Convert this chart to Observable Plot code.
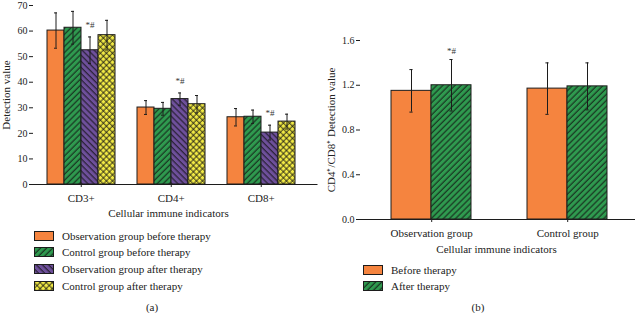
<!DOCTYPE html>
<html><head><meta charset="utf-8">
<script src="https://cdn.jsdelivr.net/npm/d3@7"></script>
<script src="https://cdn.jsdelivr.net/npm/@observablehq/plot@0.6"></script>
<style>
body{margin:0;background:#fff}
#root{position:relative;width:637px;height:313px;overflow:hidden;background:#fff;font-family:"Liberation Serif","Times New Roman",serif;color:#222}
.leg{position:absolute;display:flex;align-items:center;font-size:11px;height:16px;line-height:16px;white-space:nowrap}
.leg svg{margin-right:8px;display:block}
.cap{position:absolute;font-size:11px;transform:translate(-50%,-50%);white-space:nowrap}
</style></head>
<body>
<div id="root">
<svg width="0" height="0" style="position:absolute;left:0;top:0">
<defs>
<pattern id="pGreen" width="4.3" height="4.3" patternUnits="userSpaceOnUse" patternTransform="rotate(45)"><rect width="4.3" height="4.3" fill="#2F9A4F"/><line x1="1" y1="0" x2="1" y2="4.3" stroke="#111" stroke-width="0.9"/></pattern>
<pattern id="pPurple" width="4.3" height="4.3" patternUnits="userSpaceOnUse" patternTransform="rotate(-45)"><rect width="4.3" height="4.3" fill="#6E509B"/><line x1="1" y1="0" x2="1" y2="4.3" stroke="#111" stroke-width="0.9"/></pattern>
<pattern id="pYellow" width="4.3" height="4.3" patternUnits="userSpaceOnUse" patternTransform="rotate(45)"><rect width="4.3" height="4.3" fill="#F2EA45"/><line x1="1" y1="0" x2="1" y2="4.3" stroke="#111" stroke-width="0.8"/><line x1="0" y1="1" x2="4.3" y2="1" stroke="#111" stroke-width="0.8"/></pattern>
</defs></svg>
<div id="chartA" style="position:absolute;left:0;top:0"></div>
<div id="chartB" style="position:absolute;left:320px;top:0"></div>
</div>
<script>
// ---- Panel (a) data ----
const indicators = ["CD3+", "CD4+", "CD8+"];
const seriesA = ["Observation group before therapy", "Control group before therapy", "Observation group after therapy", "Control group after therapy"];
const obsBeforeMean = [60.2, 30.1, 26.3];
const obsBeforeSd = [6.9, 2.7, 3.4];
const ctrlBeforeMean = [61.3, 29.6, 26.5];
const ctrlBeforeSd = [6.4, 2.5, 2.6];
const obsAfterMean = [52.5, 33.4, 20.3];
const obsAfterSd = [5.2, 2.4, 2.9];
const ctrlAfterMean = [58.4, 31.4, 24.6];
const ctrlAfterSd = [5.8, 3.4, 2.9];
const sigA = ["", "", "*#", ""];
const yTicksA = [0, 10, 20, 30, 40, 50, 60, 70];

// ---- Panel (b) data ----
const groupsB = ["Observation group", "Control group"];
const seriesB = ["Before therapy", "After therapy"];
const beforeMean = [1.15, 1.17];
const beforeSd = [0.19, 0.23];
const afterMean = [1.20, 1.19];
const afterSd = [0.23, 0.21];
const sigBefore = ["", ""];
const sigAfter = ["*#", ""];
const yTicksB = [0, 0.4, 0.8, 1.2, 1.6];

const fillsA = ["#F5843F", "url(#pGreen)", "url(#pPurple)", "url(#pYellow)"];
const fillsB = ["#F5843F", "url(#pGreen)"];
const ink = "#1c1c1c";
const font = '"Liberation Serif", "Times New Roman", serif';

const meansA = [obsBeforeMean, ctrlBeforeMean, obsAfterMean, ctrlAfterMean];
const sdsA = [obsBeforeSd, ctrlBeforeSd, obsAfterSd, ctrlAfterSd];
const rowsA = [];
seriesA.forEach((s, i) => indicators.forEach((ind, j) => rowsA.push({ind, series: s, mean: meansA[i][j], sd: sdsA[i][j], sig: sigA[i], fill: fillsA[i]})));

const meansB = [beforeMean, afterMean];
const sdsB = [beforeSd, afterSd];
const sigsB = [sigBefore, sigAfter];
const rowsB = [];
seriesB.forEach((s, i) => groupsB.forEach((g, j) => rowsB.push({grp: g, series: s, mean: meansB[i][j], sd: sdsB[i][j], sig: sigsB[i][j], fill: fillsB[i]})));

function errorMarks(rows, fxKey, inset, dy) {
  return [
    Plot.barY(rows, {fx: fxKey, x: "series", y: "mean", fill: "fill", stroke: ink, strokeWidth: 1}),
    Plot.ruleX(rows, {fx: fxKey, x: "series", y1: d => d.mean - d.sd, y2: d => d.mean + d.sd, stroke: ink, strokeWidth: 1}),
    Plot.tickY(rows, {fx: fxKey, x: "series", y: d => d.mean + d.sd, insetLeft: inset, insetRight: inset, stroke: ink, strokeWidth: 1}),
    Plot.tickY(rows, {fx: fxKey, x: "series", y: d => d.mean - d.sd, insetLeft: inset, insetRight: inset, stroke: ink, strokeWidth: 1}),
    Plot.text(rows.filter(d => d.sig), {fx: fxKey, x: "series", y: d => d.mean + d.sd, text: "sig", dy: dy, fontSize: 9, fill: "#333"})
  ];
}

const chartA = Plot.plot({
  width: 320, height: 220,
  marginLeft: 33, marginRight: 1, marginTop: 5, marginBottom: 36,
  style: {fontFamily: font, fontSize: "10px", color: "#222", background: "transparent", overflow: "visible"},
  fx: {domain: indicators, paddingInner: 0, paddingOuter: 0.0801, align: 0},
  x: {domain: seriesA, paddingInner: 0, paddingOuter: 0.514, align: 0.649, axis: null},
  y: {domain: [0, 70], axis: null},
  color: {type: "identity"},
  marks: [
    ...errorMarks(rowsA, "ind", 7, -12),
    Plot.ruleY([0], {stroke: ink, insetRight: -14.5}),
    Plot.axisY({ticks: yTicksA, tickSize: 4, tickPadding: 2, line: true, label: null, fontSize: 10, stroke: ink}),
    Plot.axisY({ticks: [], tickSize: 0, label: "Detection value", labelAnchor: "center", labelOffset: 31, labelArrow: "none", fontSize: 11}),
    Plot.axisFx({anchor: "bottom", tickSize: 3, tickPadding: 7, fontSize: 11, label: null, dx: 2.75}),
    Plot.axisFx({anchor: "bottom", ticks: [], tickSize: 0, fontSize: 11, label: "Cellular immune indicators", labelAnchor: "center", labelOffset: 32, labelArrow: "none", dx: -4})
  ]
});
document.getElementById("chartA").append(chartA);

const chartB = Plot.plot({
  width: 317, height: 256,
  marginLeft: 40, marginRight: 0, marginTop: 40, marginBottom: 37,
  style: {fontFamily: font, fontSize: "10px", color: "#222", background: "transparent", overflow: "visible"},
  fx: {domain: groupsB, paddingInner: 0, paddingOuter: 0.011, align: 0},
  x: {domain: seriesB, paddingInner: 0, paddingOuter: 0.683, align: 0.558, axis: null},
  y: {domain: [0, 1.6], axis: null},
  color: {type: "identity"},
  marks: [
    ...errorMarks(rowsB, "grp", 18.4, -8),
    Plot.ruleY([0], {stroke: ink, insetRight: -3}),
    Plot.axisY({ticks: yTicksB, tickFormat: d3.format(".1f"), tickSize: 4, tickPadding: 2, line: true, label: null, fontSize: 10, stroke: ink}),
    Plot.axisY({ticks: [], tickSize: 0, label: "CD4\u207A/CD8\u207A Detection value", labelAnchor: "center", labelOffset: 33, labelArrow: "none", fontSize: 11}),
    Plot.axisFx({anchor: "bottom", tickSize: 3, tickPadding: 7, fontSize: 11, label: null, dx: 3.2}),
    Plot.axisFx({anchor: "bottom", ticks: [], tickSize: 0, fontSize: 11, label: "Cellular immune indicators", labelAnchor: "center", labelOffset: 33, labelArrow: "none", dx: 1.5})
  ]
});
document.getElementById("chartB").append(chartB);

// ---- Legends ----
const root = document.getElementById("root");
function legend(names, fills, left, top0, step) {
  names.forEach((name, i) => {
    const div = document.createElement("div");
    div.className = "leg";
    div.style.left = left + "px";
    div.style.top = (top0 + i * step - 8) + "px";
    div.innerHTML = `<svg width="20" height="10"><rect x="0.5" y="0.5" width="19" height="9" fill="${fills[i]}" stroke="${ink}" stroke-width="1"/></svg><span>${name}</span>`;
    root.append(div);
  });
}
legend(seriesA, fillsA, 34, 235.7, 16.6);
legend(seriesB, fillsB, 363, 270, 16.4);

function caption(text, x, y) {
  const div = document.createElement("div");
  div.className = "cap";
  div.style.left = x + "px";
  div.style.top = y + "px";
  div.textContent = text;
  root.append(div);
}
caption("(a)", 152, 307);
caption("(b)", 478, 307);
</script>
</body></html>
